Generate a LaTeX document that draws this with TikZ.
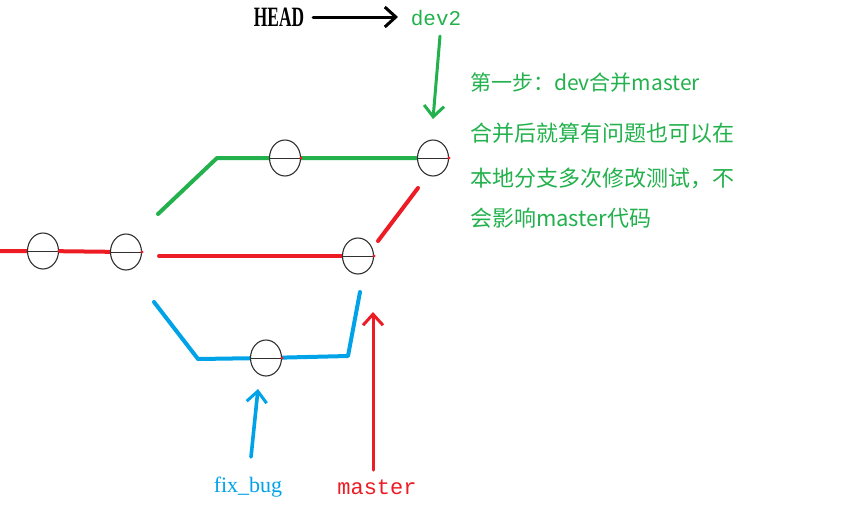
\documentclass[tikz,border=0pt]{standalone}
\usepackage{fontspec}
\setmainfont{Liberation Serif}
\newfontfamily\cjk{Noto Sans CJK SC}
\newfontfamily\mono{Liberation Mono}
\usetikzlibrary{arrows.meta,shapes.geometric}
\definecolor{gitred}{HTML}{ED1C24}
\definecolor{gitgreen}{HTML}{22B14C}
\definecolor{gitblue}{HTML}{00A2E8}
\definecolor{gitink}{HTML}{303030}

\tikzset{
  commit/.style={ellipse, draw=gitink, line width=1.1pt, fill=white,
    minimum width=31pt, minimum height=36pt, inner sep=0pt},
  branch/.style={line width=4pt, line cap=round, line join=round},
  pointer/.style={line width=3pt, line cap=round,
    -{Straight Barb[length=11pt, width=20pt, line width=3pt]}},
}

\begin{document}
\begin{tikzpicture}[x=1pt, y=-1pt]
  \useasboundingbox (0,0) rectangle (864,517);

  % 提交点（像素坐标，y 向下）
  \coordinate (start) at (0,251);
  \coordinate (c1) at (43,251);
  \coordinate (c2) at (126,252);
  \coordinate (g1) at (285,158);
  \coordinate (g2) at (433,158);
  \coordinate (r1) at (358,256);
  \coordinate (b1) at (266,358);

  % 分支折线：先画线，再把提交圆盖上去
  \draw[branch, gitred] (start) -- (c1) -- (c2);
  \draw[branch, gitgreen] (158,214) -- (217,158) -- (g1) -- (g2);
  \draw[branch, gitred] (159,256) -- (r1);
  \draw[branch, gitred] (378,241) -- (418,188);
  \draw[branch, gitblue] (154,302) -- (198,359) -- (b1);
  \draw[branch, gitblue] (b1) -- (348,356) -- (360,292);

  % 提交圆：中间一条直径，右端一个红点
  \foreach \p in {c1,c2,g1,g2,r1,b1} {
    \node[commit] (n\p) at (\p) {};
    \draw[gitink, line width=1pt] (n\p.west) -- (n\p.east);
    \fill[gitred] (n\p.east) circle (1.6pt);
  }

  % HEAD -> dev2
  \node (head) at (279,17) {\fontsize{28}{30}\selectfont\scalebox{0.62}[1]{\bfseries HEAD}};
  \node[gitgreen] (dev2) at (436,18) {\mono\fontsize{21}{24}\selectfont dev2};
  \draw[pointer, black] (313,17) -- (398,17);
  \draw[pointer, gitgreen] (440,36) -- (433,119);

  % master 与 fix_bug 指针
  \node[gitred] (master) at (377,487) {\mono\fontsize{22}{24}\selectfont master};
  \node[gitblue] (fixbug) at (248,487) {\fontsize{22}{24}\selectfont fix\_bug};
  \draw[pointer, gitred] (373,470) -- (373,312);
  \draw[pointer, gitblue, line width=3.6pt] (251,457) -- (258,389);

  % 说明文字
  \begin{scope}[gitgreen, every node/.style={anchor=west, inner sep=0pt}]
    \node (step) at (470,83) {\cjk\fontsize{21}{24}\selectfont 第一步：dev合并master};
    \node (ln1) at (470,133) {\cjk\fontsize{22}{24}\selectfont 合并后就算有问题也可以在};
    \node (ln2) at (470,178) {\cjk\fontsize{22}{24}\selectfont 本地分支多次修改测试，不};
    \node (ln3) at (470,218) {\cjk\fontsize{22}{24}\selectfont 会影响master代码};
  \end{scope}
\end{tikzpicture}
\end{document}
